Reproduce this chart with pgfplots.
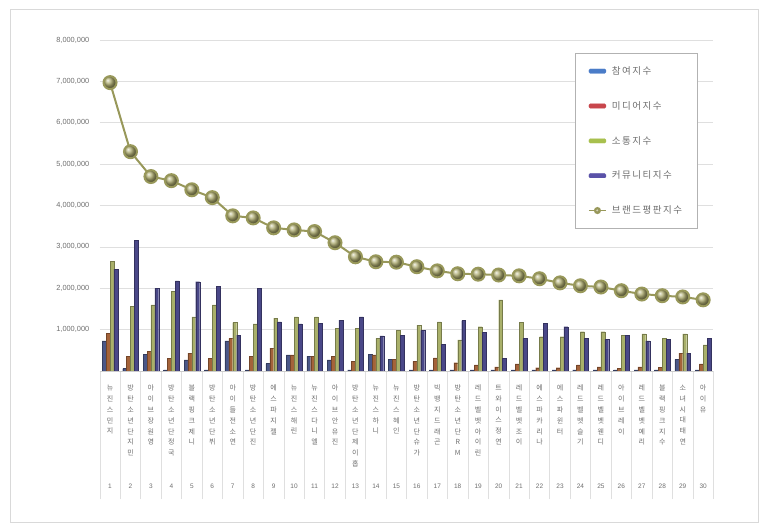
\documentclass[border=0pt]{standalone}
\usepackage{pgfplots}
\pgfplotsset{compat=1.18}
\usepackage{pgfplotstable}
\usepackage{fontspec}
\setmainfont{Liberation Sans}
\newfontfamily\kr{Noto Sans CJK KR}
\newfontfamily\krl[LetterSpace=16]{Noto Sans CJK KR}
\definecolor{txt}{HTML}{6E6E6E}
\definecolor{cP}{HTML}{4A5788}
\definecolor{cM}{HTML}{A4633A}
\definecolor{cC}{HTML}{A9B06A}
\definecolor{cK}{HTML}{4A4888}
\definecolor{cPl}{HTML}{4A7CC8}
\definecolor{cMl}{HTML}{C8464C}
\definecolor{cCl}{HTML}{A8C04E}
\definecolor{cKl}{HTML}{5A52A8}
\definecolor{lineol}{HTML}{98985A}
\definecolor{ballol}{HTML}{ADAB6E}

\pgfplotstableread{
x p m c k b
1 730000 910000 2650000 2460000 6970000
2 60000 360000 1570000 3160000 5300000
3 400000 480000 1600000 2000000 4700000
4 30000 310000 1920000 2180000 4600000
5 270000 430000 1310000 2160000 4380000
6 30000 310000 1600000 2040000 4190000
7 730000 790000 1170000 870000 3750000
8 30000 350000 1140000 2000000 3700000
9 180000 550000 1280000 1190000 3460000
10 390000 390000 1310000 1140000 3410000
11 360000 360000 1310000 1150000 3370000
12 270000 360000 1030000 1230000 3100000
13 30000 230000 1030000 1310000 2760000
14 400000 390000 790000 850000 2640000
15 280000 280000 980000 870000 2630000
16 30000 230000 1110000 980000 2520000
17 30000 320000 1190000 650000 2420000
18 30000 200000 750000 1220000 2350000
19 30000 150000 1070000 930000 2340000
20 30000 100000 1720000 310000 2320000
21 30000 170000 1170000 790000 2300000
22 30000 80000 830000 1150000 2230000
23 30000 80000 830000 1070000 2130000
24 30000 150000 950000 790000 2060000
25 30000 100000 950000 770000 2030000
26 30000 60000 870000 870000 1940000
27 30000 100000 900000 730000 1860000
28 30000 90000 790000 770000 1820000
29 280000 430000 900000 430000 1790000
30 30000 170000 630000 790000 1720000
}\datatable

\begin{document}
\begin{tikzpicture}[x=1pt,y=1pt]
\path[use as bounding box] (0,0) rectangle (768,532);
\draw[gray!30, line width=0.8pt] (10,10) rectangle (758,523);
\begin{axis}[
  at={(99.8pt,161pt)}, anchor=south west,
  scale only axis, width=613.6pt, height=331pt,
  xmin=0.5, xmax=30.5, ymin=0, ymax=8000000,
  axis lines*=left,
  y axis line style={draw=none},
  x axis line style={draw=gray!40},
  ymajorgrids, grid style={draw=gray!25, line width=0.6pt},
  major tick length=0pt,
  tick align=outside,
  minor tick length=128pt,
  minor tick style={draw=gray!25, line width=0.6pt},
  minor xtick={0.5,1.5,...,30.5},
  ytick={1000000,2000000,...,8000000},
  scaled y ticks=false,
  /pgf/number format/assume math mode=true,
  yticklabel style={/pgf/number format/fixed, /pgf/number format/1000 sep={,},
    font=\fontsize{7.4}{8}\selectfont, text=txt, anchor=east, xshift=-7pt},
  xtick={1,2,...,30},
  xticklabels={
    {뉴\\진\\스\\민\\지},
    {방\\탄\\소\\년\\단\\지\\민},
    {아\\이\\브\\장\\원\\영},
    {방\\탄\\소\\년\\단\\정\\국},
    {블\\랙\\핑\\크\\제\\니},
    {방\\탄\\소\\년\\단\\뷔},
    {아\\이\\들\\전\\소\\연},
    {방\\탄\\소\\년\\단\\진},
    {에\\스\\파\\지\\젤},
    {뉴\\진\\스\\해\\린},
    {뉴\\진\\스\\다\\니\\엘},
    {아\\이\\브\\안\\유\\진},
    {방\\탄\\소\\년\\단\\제\\이\\홉},
    {뉴\\진\\스\\하\\니},
    {뉴\\진\\스\\혜\\인},
    {방\\탄\\소\\년\\단\\슈\\가},
    {빅\\뱅\\지\\드\\래\\곤},
    {방\\탄\\소\\년\\단\\R\\M},
    {레\\드\\벨\\벳\\아\\이\\린},
    {트\\와\\이\\스\\정\\연},
    {레\\드\\벨\\벳\\조\\이},
    {에\\스\\파\\카\\리\\나},
    {에\\스\\파\\윈\\터},
    {레\\드\\벨\\벳\\슬\\기},
    {레\\드\\벨\\벳\\웬\\디},
    {아\\이\\브\\레\\이},
    {레\\드\\벨\\벳\\예\\리},
    {블\\랙\\핑\\크\\지\\수},
    {소\\녀\\시\\대\\태\\연},
    {아\\이\\유}},
  xticklabel style={font=\kr\fontsize{7}{10.8}\selectfont, text=txt, align=center,
    anchor=north, inner sep=0pt, yshift=-14pt},
  extra x ticks={1,2,...,30},
  extra x tick labels={1,2,3,4,5,6,7,8,9,10,11,12,13,14,15,16,17,18,19,20,21,22,23,24,25,26,27,28,29,30},
  extra x tick style={xticklabel style={font=\fontsize{6.5}{7}\selectfont, yshift=-99pt}},
  legend style={at={(0.7745,0.9607)}, anchor=north west, draw=gray!60, line width=0.8pt,
    fill=white, font=\krl\fontsize{9.5}{10}\selectfont, text=txt,
    row sep=21.5pt, inner xsep=13pt, inner ysep=11pt},
  legend cell align=left,
]
\addplot[ybar, bar width=3.9pt, bar shift=-5.85pt, fill=cP, draw=cP!70!black, line width=0.2pt,
  legend image code/.code={\fill[cPl, rounded corners=1.2pt] (0pt,-2.2pt) rectangle (17pt,2.2pt); \path (20pt,0pt);}]
  table[x=x,y=p]{\datatable};
\addlegendentry{참여지수}
\addplot[ybar, bar width=3.9pt, bar shift=-1.95pt, fill=cM, draw=cM!70!black, line width=0.2pt,
  legend image code/.code={\fill[cMl, rounded corners=1.2pt] (0pt,-2.2pt) rectangle (17pt,2.2pt); \path (20pt,0pt);}]
  table[x=x,y=m]{\datatable};
\addlegendentry{미디어지수}
\addplot[ybar, bar width=3.9pt, bar shift=1.95pt, fill=cC, draw=cC!70!black, line width=0.2pt,
  legend image code/.code={\fill[cCl, rounded corners=1.2pt] (0pt,-2.2pt) rectangle (17pt,2.2pt); \path (20pt,0pt);}]
  table[x=x,y=c]{\datatable};
\addlegendentry{소통지수}
\addplot[ybar, bar width=3.9pt, bar shift=5.85pt, fill=cK, draw=cK!70!black, line width=0.2pt,
  legend image code/.code={\fill[cKl, rounded corners=1.2pt] (0pt,-2.2pt) rectangle (17pt,2.2pt); \path (20pt,0pt);}]
  table[x=x,y=k]{\datatable};
\addlegendentry{커뮤니티지수}
\addplot[color=lineol, line width=2pt, mark=ball, mark size=6.5pt, mark options={ball color=ballol},
  legend image code/.code={\draw[lineol, line width=1pt] (0pt,0pt) -- (17pt,0pt);
    \shade[ball color=ballol] (8.5pt,0pt) circle (2.5pt); \path (20pt,0pt);}]
  table[x=x,y=b]{\datatable};
\addlegendentry{브랜드평판지수}
\end{axis}
\end{tikzpicture}
\end{document}
